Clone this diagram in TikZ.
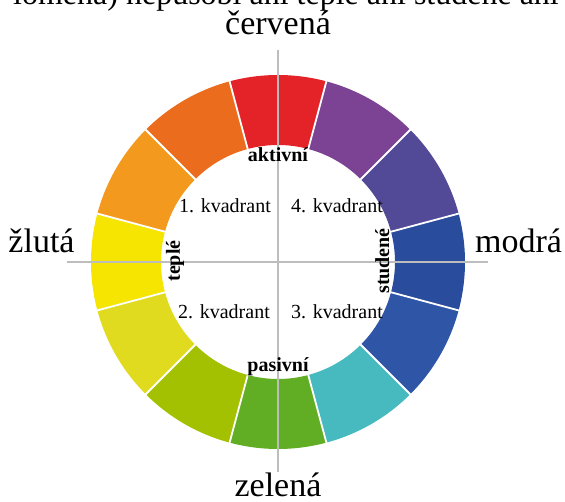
\documentclass[tikz,border=0pt]{standalone}
\usepackage{fontspec}
\setmainfont{Liberation Serif}
\definecolor{cred}{HTML}{E42328}
\definecolor{corange}{HTML}{EC6C1D}
\definecolor{clorange}{HTML}{F39A1E}
\definecolor{cyellow}{HTML}{F5E500}
\definecolor{cygreen}{HTML}{E0DB1F}
\definecolor{clime}{HTML}{A3C100}
\definecolor{cgreen}{HTML}{61AE24}
\definecolor{cteal}{HTML}{46BABE}
\definecolor{cblue}{HTML}{2F56A6}
\definecolor{cdblue}{HTML}{294C9C}
\definecolor{cindigo}{HTML}{524A97}
\definecolor{cpurple}{HTML}{7C4294}
\definecolor{axisgray}{HTML}{BDBDBD}
\tikzset{
  sepline/.style={white, line width=1.8pt},
  axisline/.style={draw=axisgray, line width=1.3pt},
  biglabel/.style={font=\fontsize{34}{40}\selectfont, anchor=base, inner sep=0pt},
  toplabel/.style={font=\fontsize{32}{38}\selectfont, anchor=base west, inner sep=0pt},
  quadlabel/.style={font=\fontsize{20}{24}\selectfont, anchor=base, inner sep=0pt},
  boldlabel/.style={font=\bfseries\fontsize{20}{24}\selectfont, anchor=base, inner sep=0pt},
}
\begin{document}
\begin{tikzpicture}[x=1pt,y=1pt]
\clip (-278,-240) rectangle (287,262);
% wheel segments
\foreach \c [count=\i from 0] in {cdblue,cindigo,cpurple,cred,corange,clorange,cyellow,cygreen,clime,cgreen,cteal,cblue}{
  \pgfmathsetmacro{\sa}{30*\i-15}
  \pgfmathsetmacro{\ea}{30*\i+15}
  \fill[\c] (\sa:117) arc[start angle=\sa, end angle=\ea, radius=117]
     -- (\ea:187) arc[start angle=\ea, end angle=\sa, radius=187] -- cycle;
}
\foreach \a in {15,45,...,345}{
  \draw[sepline] (\a:116) -- (\a:188);
}
% axes
\coordinate (axL) at (-211,0);
\coordinate (axR) at (210,0);
\coordinate (axT) at (0,212);
\coordinate (axB) at (0,-210);
\draw[axisline] (axL) -- (axR);
\draw[axisline] (axT) -- (axB);
% top cut text
\node[toplabel] (toptxt) at (-265,257) {lomena) nepůsobí ani teplé ani studené ani};
% big labels
\node[biglabel] (cervena) at (0,227) {červená};
\node[biglabel] (zluta) at (-236.5,9) {žlutá};
\node[biglabel] (modra) at (240.5,9) {modrá};
\node[biglabel] (zelena) at (0,-235) {zelená};
% quadrants
\node[quadlabel] (q1) at (-53,49) {1. kvadrant};
\node[quadlabel] (q4) at (59,49) {4. kvadrant};
\node[quadlabel] (q2) at (-54,-57) {2. kvadrant};
\node[quadlabel] (q3) at (59,-57) {3. kvadrant};
% bold labels
\node[boldlabel] (aktivni) at (0,100) {aktivní};
\node[boldlabel] (pasivni) at (0,-110) {pasivní};
\node[boldlabel, rotate=90] (teple) at (-98,1) {teplé};
\node[boldlabel, rotate=90] (studene) at (111,1) {studené};
\end{tikzpicture}
\end{document}
